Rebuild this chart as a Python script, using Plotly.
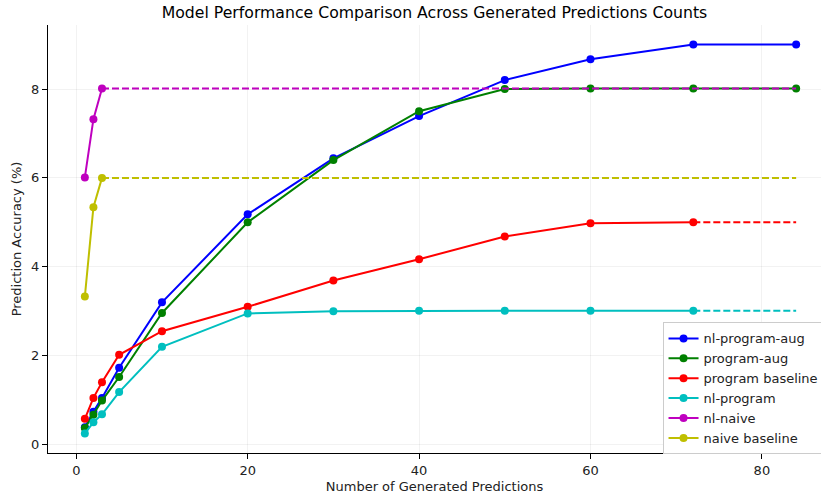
import plotly.graph_objects as go

# ---- data ----
x_main = [1, 2, 3, 5, 10, 20, 30, 40, 50, 60, 72, 84]
nl_program_aug = [0.39, 0.74, 1.05, 1.73, 3.20, 5.18, 6.44, 7.39, 8.20, 8.67, 9.00, 9.00]
program_aug = [0.37, 0.67, 0.99, 1.52, 2.96, 5.00, 6.40, 7.50, 8.00, 8.01, 8.01, 8.01]

x_base = [1, 2, 3, 5, 10, 20, 30, 40, 50, 60, 72]
program_baseline = [0.58, 1.05, 1.40, 2.02, 2.55, 3.10, 3.69, 4.17, 4.68, 4.98, 5.00]
nl_program = [0.25, 0.50, 0.68, 1.18, 2.20, 2.95, 3.00, 3.01, 3.01, 3.01, 3.01]

x_naive = [1, 2, 3]
nl_naive = [6.01, 7.32, 8.01]
naive_baseline = [3.33, 5.34, 6.00]

x_end = 84

x_ticks = [0, 20, 40, 60, 80]
y_ticks = [0, 2, 4, 6, 8]

FONT = "DejaVu Sans"

series = [
    ("nl-program-aug", x_main, nl_program_aug, "#0000ff"),
    ("program-aug", x_main, program_aug, "#008000"),
    ("program baseline", x_base, program_baseline, "#ff0000"),
    ("nl-program", x_base, nl_program, "#00bfbf"),
    ("nl-naive", x_naive, nl_naive, "#bf00bf"),
    ("naive baseline", x_naive, naive_baseline, "#bfbf00"),
]

fig = go.Figure()

# solid series with markers
for name, xs, ys, col in series:
    fig.add_trace(go.Scatter(
        x=xs, y=ys, mode="lines+markers", name=name,
        line=dict(color=col, width=2),
        marker=dict(color=col, size=8),
    ))

# dashed extensions to the last x
for name, xs, ys, col in series:
    if xs[-1] < x_end:
        fig.add_trace(go.Scatter(
            x=[xs[-1], x_end], y=[ys[-1], ys[-1]], mode="lines",
            line=dict(color=col, width=2, dash="7px,3px"),
            showlegend=False, hoverinfo="skip",
        ))

axis_common = dict(
    showline=True, linecolor="black", linewidth=1,
    ticks="outside", ticklen=5, tickcolor="black", tickwidth=1,
    showgrid=True, gridcolor="rgba(0,0,0,0.05)", gridwidth=1,
    zeroline=False, mirror=False, automargin=False,
    tickfont=dict(family=FONT, size=13, color="#222"),
)

fig.update_layout(
    width=821, height=494,
    paper_bgcolor="white", plot_bgcolor="white",
    margin=dict(l=48, r=0, t=25, b=41, autoexpand=False),
    title=dict(
        text="Model Performance Comparison Across Generated Predictions Counts",
        font=dict(family=FONT, size=15.7, color="black"),
        x=0.5, xref="paper", y=0.975, yanchor="middle",
    ),
    xaxis=dict(
        axis_common, range=[-3.3, 86.9], tickvals=x_ticks,
        title=dict(text="Number of Generated Predictions",
                   font=dict(family=FONT, size=13, color="#222"), standoff=6),
    ),
    yaxis=dict(
        axis_common, range=[-0.19, 9.44], tickvals=y_ticks,
        title=dict(text="Prediction Accuracy (%)",
                   font=dict(family=FONT, size=13, color="#222"), standoff=6),
    ),
    legend=dict(
        x=0.795, y=0.305, xanchor="left", yanchor="top",
        bgcolor="white", bordercolor="#cccccc", borderwidth=1,
        font=dict(family=FONT, size=13, color="#222"),
        tracegroupgap=0, itemwidth=30,
    ),
    showlegend=True,
)

fig.write_html(
    "out.html",
    config={"displayModeBar": False},
    post_script="document.body.style.margin='0';document.body.style.overflow='hidden';",
)
